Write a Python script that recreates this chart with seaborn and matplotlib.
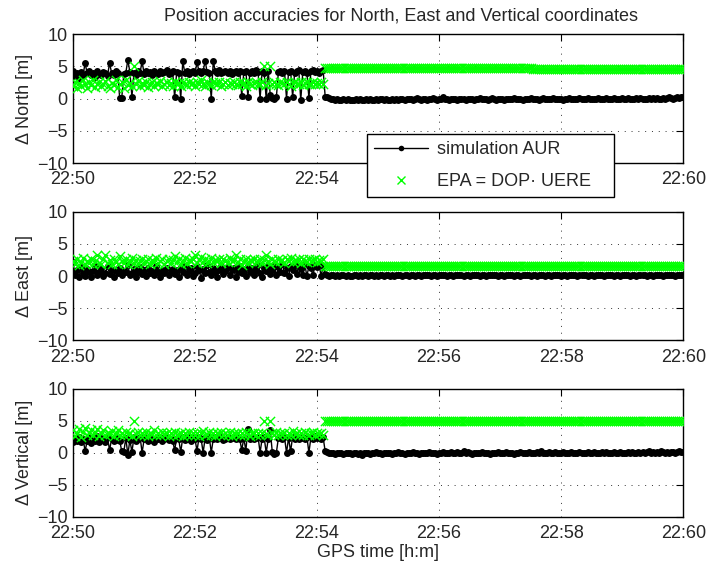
import numpy as np
import pandas as pd
import seaborn as sns
import matplotlib
matplotlib.use("Agg")
import matplotlib.pyplot as plt
from matplotlib.lines import Line2D

# GPS epochs in seconds after 22:50:00, one every 2 s
epoch_s = np.arange(0, 601, 2)

# --- North ---------------------------------------------------------------
north_aur = [
    4.3, 3.5, 3.9, 3.2, 4.1, 3.7, 5.5, 3.9, 4.2, 3.6,
    4.0, 3.4, 4.3, 3.8, 3.6, 4.1, 3.9, 3.5, 5.5, 4.0,
    3.7, 4.2, 3.9, 0.1, 0.1, 3.8, 4.0, 6.0, 4.1, 0.3,
    3.9, 3.6, 4.2, 4.0, 5.8, 3.8, 4.3, 3.9, 4.1, 3.7,
    4.2, 4.0, 3.8, 4.3, 3.9, 4.1, 4.4, 3.8, 4.0, 4.2,
    0.2, 4.1, 3.9, 0.0, 5.8, 4.0, 4.3, 3.8, 4.1, 4.2,
    3.9, 5.6, 4.2, 4.0, 4.3, 5.8, 4.1, 3.9, 0.0, 5.8,
    4.2, 4.0, 4.4, 3.9, 4.1, 4.3, 4.0, 4.2, 3.8, 4.1,
    4.3, 4.0, 4.2, 0.4, 4.1, 4.3, 0.3, 4.0, 4.2, 3.9,
    4.4, 4.1, 0.0, 4.2, 4.0, 0.0, 4.3, 0.5, 0.1, 0.0,
    0.2, 4.1, 4.3, 4.0, 4.2, 0.0, 4.1, 4.3, 0.3, 4.0,
    4.2, 4.4, -0.2, 4.1, 4.3, 4.0, 0.1, 4.2, 4.4, 4.1,
    4.3, 4.0, 4.2, 4.4, 0.3,
    0.2, 0.1, 0.0, -0.1, -0.2, -0.1, -0.2, -0.3, -0.1, -0.2,
    -0.1, -0.2, -0.3, -0.2, -0.1, -0.2, -0.1, -0.3, -0.2, -0.1,
    -0.2, -0.1, -0.2, -0.3, -0.1, -0.2, -0.1, 0.0, -0.2, -0.1,
    -0.2, -0.3, -0.1, -0.2, -0.1, -0.2, 0.0, -0.1, -0.2, -0.1,
    -0.1, 0.0, -0.2, -0.1, 0.1, -0.1, -0.2, 0.0, -0.1, -0.2,
    -0.1, 0.0, 0.1, -0.1, -0.2, 0.0, -0.1, 0.2, 0.0, -0.1,
    -0.2, -0.1, 0.0, -0.1, -0.2, -0.1, 0.0, -0.1, -0.3, -0.1,
    0.0, -0.1, -0.2, 0.0, -0.1, 0.1, -0.1, 0.0, -0.1, -0.2,
    0.0, 0.1, -0.1, -0.2, -0.1, 0.0, -0.1, -0.3, -0.1, 0.0,
    -0.1, 0.0, 0.1, -0.1, 0.0, -0.1, -0.2, 0.0, -0.1, 0.0,
    0.1, -0.1, 0.0, -0.1, -0.2, 0.0, 0.1, -0.1, 0.0, -0.1,
    0.0, 0.1, -0.1, 0.0, -0.1, 0.0, -0.2, -0.1, 0.0, 0.1,
    -0.1, 0.0, -0.1, 0.0, 0.1, 0.0, -0.1, 0.0, 0.1, -0.1,
    0.0, -0.1, 0.0, 0.1, 0.0, -0.1, 0.0, 0.1, 0.0, -0.1,
    0.0, 0.1, 0.0, -0.1, 0.0, 0.1, 0.0, 0.0, 0.1, 0.0,
    -0.1, 0.0, 0.1, 0.0, 0.1, 0.0, -0.1, 0.0, 0.1, 0.0,
    0.1, 0.0, 0.1, 0.0, 0.0, 0.1, 0.0, 0.1, 0.2, 0.1,
    0.0, 0.1, 0.2, 0.1, 0.2, 0.2,
]
north_epa = [
    2.0, 2.6, 1.6, 2.4, 1.9, 2.8, 2.2, 1.7, 2.5, 2.1,
    2.9, 1.8, 2.3, 2.6, 1.9, 2.2, 2.7, 2.0, 1.6, 2.4,
    2.1, 2.8, 1.8, 2.3, 2.6, 1.7, 2.9, 2.1, 2.4, 1.9,
    5.0, 2.2, 2.7, 1.9, 2.4, 2.1, 2.6, 1.8, 2.3, 2.5,
    2.0, 2.4, 2.2, 2.7, 1.9, 2.3, 2.5, 2.1, 2.4, 2.0,
    2.6, 2.2, 2.4, 1.9, 2.5, 2.3, 2.1, 2.6, 2.2, 2.4,
    2.0, 2.5, 2.3, 2.8, 2.2, 1.9, 2.6, 2.3, 2.1, 2.5,
    2.4, 2.2, 2.6, 2.0, 2.3, 2.5, 2.1, 2.4, 2.2, 2.6,
    2.3, 2.1, 2.5, 2.2, 2.4, 2.0, 2.6, 2.3, 2.1, 2.4,
    2.5, 2.2, 2.3, 2.6, 5.0, 2.1, 2.4, 5.0, 2.2, 2.5,
    2.3, 2.1, 2.6, 2.4, 2.2, 2.5, 2.3, 2.0, 2.4, 2.6,
    2.2, 2.3, 2.5, 2.1, 2.4, 2.6, 2.3, 2.2, 2.5, 2.3,
    2.4, 2.2, 2.6, 2.3, 4.75,
    4.75, 4.75, 4.75, 4.75, 4.75, 4.75, 4.75, 4.75, 4.75, 4.75,
    4.75, 4.75, 4.75, 4.75, 4.75, 4.75, 4.75, 4.75, 4.75, 4.75,
    4.75, 4.75, 4.75, 4.75, 4.75, 4.75, 4.75, 4.75, 4.75, 4.75,
    4.75, 4.75, 4.75, 4.75, 4.75, 4.75, 4.75, 4.75, 4.75, 4.75,
    4.75, 4.75, 4.75, 4.75, 4.75, 4.75, 4.75, 4.75, 4.75, 4.75,
    4.75, 4.75, 4.75, 4.75, 4.75, 4.75, 4.75, 4.75, 4.75, 4.75,
    4.75, 4.75, 4.75, 4.75, 4.75, 4.75, 4.75, 4.75, 4.75, 4.75,
    4.75, 4.75, 4.75, 4.75, 4.75, 4.75, 4.75, 4.75, 4.75, 4.75,
    4.75, 4.75, 4.75, 4.75, 4.75, 4.75, 4.75, 4.75, 4.75, 4.75,
    4.75, 4.75, 4.75, 4.75, 4.75, 4.75, 4.75, 4.75, 4.75, 4.75,
    4.75, 4.55, 4.55, 4.55, 4.55, 4.55, 4.55, 4.55, 4.55, 4.55,
    4.55, 4.55, 4.55, 4.55, 4.55, 4.55, 4.55, 4.55, 4.55, 4.55,
    4.55, 4.55, 4.55, 4.55, 4.55, 4.55, 4.55, 4.55, 4.55, 4.55,
    4.55, 4.55, 4.55, 4.55, 4.55, 4.55, 4.55, 4.55, 4.55, 4.55,
    4.55, 4.55, 4.55, 4.55, 4.55, 4.55, 4.55, 4.55, 4.55, 4.55,
    4.55, 4.55, 4.55, 4.55, 4.55, 4.55, 4.55, 4.55, 4.55, 4.55,
    4.55, 4.55, 4.55, 4.55, 4.55, 4.55, 4.55, 4.55, 4.55, 4.55,
    4.55, 4.55, 4.55, 4.55, 4.55, 4.55,
]

# --- East ----------------------------------------------------------------
east_aur = [
    2.2, 0.1, 0.9, -0.2, 1.4, 0.4, 0.0, 1.1, 0.6, -0.1,
    0.8, 1.5, 0.2, 0.7, 1.2, 0.0, 0.5, 1.6, 0.3, 0.9,
    -0.1, 1.0, 0.4, 1.3, 0.1, 0.8, 0.6, 1.7, 0.2, 0.5,
    1.1, -0.2, 0.7, 1.4, 0.3, 0.9, 0.0, 1.2, 0.5, 0.8,
    0.2, 1.5, 0.6, -0.1, 1.0, 0.4, 1.3, 0.1, 0.7, 1.1,
    0.3, 0.9, -0.2, 1.4, 0.6, 1.6, 0.2, 0.8, 1.2, 0.0,
    0.5, 1.5, 0.9, -0.3, 1.1, 0.4, 1.7, 0.7, 0.1, 1.3,
    0.6, -0.1, 1.0, 1.6, 0.3, 0.8, 1.4, 0.2, 0.9, 1.2,
    -0.2, 0.7, 1.5, 0.4, 1.1, 0.0, 1.6, 0.6, 1.3, 0.2,
    0.9, 1.7, 0.5, -0.2, 1.2, 0.8, 1.5, 0.3, 1.0, 1.6,
    0.1, 1.4, 0.7, 1.8, 0.4, 1.2, 0.0, 1.5, 0.9, 1.7,
    0.3, 1.6, 1.1, 0.2, 1.8, 0.0, 1.5, 1.2, 0.1, 1.7,
    1.4, 1.8, 0.0, 1.6, 0.3,
    0.1, 0.0, 0.1, 0.1, 0.0, 0.1, 0.0, 0.1, 0.1, 0.0,
    0.1, 0.0, 0.0, 0.1, 0.1, 0.0, 0.1, 0.0, 0.1, 0.1,
    0.0, 0.1, 0.1, 0.0, 0.1, 0.0, 0.1, 0.1, 0.0, 0.1,
    0.1, 0.0, 0.1, 0.0, 0.1, 0.2, 0.1, 0.0, 0.1, 0.1,
    0.0, 0.1, 0.1, 0.0, 0.1, 0.1, 0.0, 0.1, 0.2, 0.1,
    0.1, 0.0, 0.1, 0.1, 0.0, 0.1, 0.1, 0.2, 0.1, 0.0,
    0.1, 0.1, 0.0, 0.1, 0.2, 0.1, 0.1, 0.0, 0.1, 0.1,
    0.0, 0.1, 0.1, 0.2, 0.1, 0.0, 0.1, 0.1, 0.0, 0.1,
    0.1, 0.2, 0.1, 0.1, 0.0, 0.1, 0.1, 0.0, 0.1, 0.2,
    0.1, 0.1, 0.0, 0.1, 0.1, 0.0, 0.1, 0.2, 0.1, 0.1,
    0.0, 0.1, 0.1, 0.0, 0.1, 0.2, 0.1, 0.0, 0.1, 0.1,
    0.0, 0.1, 0.1, 0.2, 0.1, 0.0, 0.1, 0.1, 0.0, 0.1,
    0.2, 0.1, 0.1, 0.0, 0.1, 0.1, 0.2, 0.1, 0.0, 0.1,
    0.1, 0.0, 0.1, 0.2, 0.1, 0.1, 0.0, 0.1, 0.1, 0.2,
    0.1, 0.0, 0.1, 0.1, 0.0, 0.1, 0.2, 0.1, 0.1, 0.0,
    0.1, 0.1, 0.0, 0.1, 0.2, 0.1, 0.1, 0.0, 0.1, 0.1,
    0.0, 0.1, 0.2, 0.1, 0.1, 0.0, 0.1, 0.1, 0.2, 0.1,
    0.1, 0.0, 0.1, 0.1, 0.1, 0.1,
]
east_epa = [
    2.4, 1.9, 2.6, 1.7, 2.2, 2.8, 1.8, 2.3, 2.0, 2.7,
    1.9, 2.4, 3.3, 2.1, 1.8, 2.6, 3.3, 2.0, 2.5, 1.9,
    2.7, 2.2, 1.8, 3.1, 2.4, 2.0, 2.6, 1.9, 2.3, 2.8,
    2.1, 2.5, 1.9, 2.4, 2.7, 2.0, 2.3, 2.6, 1.9, 2.5,
    2.2, 2.8, 2.0, 2.4, 2.6, 1.9, 2.3, 2.7, 2.1, 2.5,
    3.1, 2.2, 2.6, 1.9, 2.4, 2.8, 2.0, 2.5, 2.3, 2.7,
    3.3, 2.1, 2.5, 2.9, 2.2, 2.6, 2.0, 2.4, 2.8, 2.2,
    2.5, 2.3, 2.7, 2.1, 2.6, 2.4, 2.2, 2.8, 2.3, 2.5,
    3.3, 2.2, 2.6, 1.7, 2.4, 2.7, 2.1, 2.5, 2.3, 2.6,
    2.2, 2.4, 2.7, 2.1, 2.5, 3.3, 2.3, 1.9, 2.6, 2.4,
    2.2, 2.7, 2.3, 2.5, 2.1, 2.6, 2.4, 2.8, 2.2, 2.5,
    2.3, 2.7, 2.1, 2.6, 2.4, 2.2, 2.7, 2.3, 2.5, 2.6,
    2.2, 2.5, 2.4, 2.7, 1.6,
    1.6, 1.6, 1.6, 1.6, 1.6, 1.6, 1.6, 1.6, 1.6, 1.6,
    1.6, 1.6, 1.6, 1.6, 1.6, 1.6, 1.6, 1.6, 1.6, 1.6,
    1.6, 1.6, 1.6, 1.6, 1.6, 1.6, 1.6, 1.6, 1.6, 1.6,
    1.6, 1.6, 1.6, 1.6, 1.6, 1.6, 1.6, 1.6, 1.6, 1.6,
    1.6, 1.6, 1.6, 1.6, 1.6, 1.6, 1.6, 1.6, 1.6, 1.6,
    1.6, 1.6, 1.6, 1.6, 1.6, 1.6, 1.6, 1.6, 1.6, 1.6,
    1.6, 1.6, 1.6, 1.6, 1.6, 1.6, 1.6, 1.6, 1.6, 1.6,
    1.6, 1.6, 1.6, 1.6, 1.6, 1.6, 1.6, 1.6, 1.6, 1.6,
    1.6, 1.6, 1.6, 1.6, 1.6, 1.6, 1.6, 1.6, 1.6, 1.6,
    1.6, 1.6, 1.6, 1.6, 1.6, 1.6, 1.6, 1.6, 1.6, 1.6,
    1.6, 1.6, 1.6, 1.6, 1.6, 1.6, 1.6, 1.6, 1.6, 1.6,
    1.6, 1.6, 1.6, 1.6, 1.6, 1.6, 1.6, 1.6, 1.6, 1.6,
    1.6, 1.6, 1.6, 1.6, 1.6, 1.6, 1.6, 1.6, 1.6, 1.6,
    1.6, 1.6, 1.6, 1.6, 1.6, 1.6, 1.6, 1.6, 1.6, 1.6,
    1.6, 1.6, 1.6, 1.6, 1.6, 1.6, 1.6, 1.6, 1.6, 1.6,
    1.6, 1.6, 1.6, 1.6, 1.6, 1.6, 1.6, 1.6, 1.6, 1.6,
    1.6, 1.6, 1.6, 1.6, 1.6, 1.6, 1.6, 1.6, 1.6, 1.6,
    1.6, 1.6, 1.6, 1.6, 1.6, 1.6,
]

# --- Vertical ------------------------------------------------------------
vert_aur = [
    1.6, 2.3, 1.8, 2.5, 1.7, 2.2, 0.2, 1.9, 2.4, 1.5,
    2.1, 1.8, 2.6, 1.7, 2.3, 2.0, 1.6, 2.4, 0.4, 2.1,
    1.8, 2.5, 2.0, 1.9, 0.2, 0.1, 2.3, -0.3, 2.0, 0.1,
    2.4, 1.9, 2.2, 2.5, 0.0, 2.1, 2.3, 1.8, 2.6, 2.0,
    1.7, 2.3, 2.1, 2.5, 1.9, 2.2, 2.4, 2.0, 2.2, 1.9,
    0.4, 2.3, 2.1, 0.1, 2.4, 2.0, 2.2, 2.5, 1.9, 2.3,
    2.1, 0.3, 2.4, 2.2, 0.0, 2.3, 2.0, 2.5, 0.0, 2.2,
    2.4, 2.1, 2.3, 2.6, 2.0, 2.2, 2.5, 2.1, 2.3, 2.4,
    2.2, 2.5, 2.1, 0.4, 2.3, 0.3, 3.7, 2.2, 2.4, 2.1,
    2.3, 2.5, 0.0, 2.2, 2.4, 0.0, 2.1, 3.5, 0.1, -0.2,
    0.0, 2.3, 2.5, 2.2, 2.4, 0.0, 2.3, 0.2, 2.5, 2.1,
    2.4, 2.2, 2.6, 2.3, 2.1, 2.5, 0.0, 2.4, 2.2, 2.6,
    2.3, 2.5, 2.2, 2.4, 0.2,
    0.1, 0.0, -0.1, 0.0, -0.2, -0.1, 0.0, -0.1, -0.2, -0.1,
    0.0, -0.1, -0.2, -0.1, 0.0, -0.2, -0.1, -0.3, -0.1, 0.0,
    -0.1, -0.2, 0.0, -0.1, 0.1, -0.1, 0.0, -0.2, -0.1, 0.0,
    -0.1, 0.0, -0.2, -0.1, 0.0, 0.1, -0.1, 0.0, -0.2, -0.1,
    0.0, -0.1, 0.1, -0.1, 0.0, -0.2, -0.1, 0.0, -0.1, 0.0,
    0.1, -0.1, 0.0, -0.1, -0.2, 0.0, -0.1, 0.1, 0.0, -0.1,
    0.0, 0.1, -0.1, 0.0, 0.1, 0.0, -0.1, 0.2, 0.0, 0.1,
    0.0, -0.2, -0.1, 0.0, -0.1, 0.0, 0.1, -0.1, 0.0, -0.1,
    -0.2, 0.0, -0.1, 0.0, 0.1, 0.0, -0.1, 0.0, 0.1, 0.0,
    -0.1, 0.0, -0.2, -0.1, 0.0, 0.1, 0.0, -0.1, 0.0, 0.1,
    0.0, -0.1, 0.0, 0.1, 0.0, 0.2, 0.0, -0.1, 0.0, 0.1,
    -0.1, 0.0, 0.1, 0.0, -0.1, 0.0, 0.1, -0.1, 0.0, 0.0,
    0.1, 0.0, -0.1, 0.0, 0.1, 0.0, -0.1, 0.0, 0.1, 0.0,
    0.0, 0.1, 0.0, -0.1, 0.0, 0.1, 0.0, 0.1, 0.0, -0.1,
    0.0, 0.1, 0.0, 0.0, 0.1, 0.0, -0.1, 0.0, 0.1, 0.0,
    0.1, 0.0, 0.0, 0.1, 0.0, 0.1, 0.0, 0.1, 0.2, 0.0,
    0.1, 0.0, 0.1, 0.0, 0.2, 0.1, 0.0, 0.1, 0.0, 0.1,
    0.1, 0.0, 0.1, 0.2, 0.1, 0.1,
]
vert_epa = [
    3.6, 2.6, 3.0, 3.7, 2.5, 3.3, 3.8, 2.7, 3.1, 3.6,
    2.8, 3.2, 3.7, 2.6, 3.0, 3.5, 2.7, 3.1, 2.9, 3.4,
    2.6, 3.0, 3.6, 2.8, 3.1, 2.7, 3.2, 2.9, 3.0, 2.6,
    5.0, 2.9, 3.2, 2.7, 3.0, 2.8, 3.3, 2.6, 3.1, 2.9,
    3.6, 2.8, 3.0, 2.7, 3.2, 2.9, 3.1, 2.6, 3.0, 2.8,
    3.2, 2.7, 2.9, 3.1, 2.6, 3.0, 2.8, 3.2, 2.7, 3.0,
    2.8, 3.1, 2.6, 3.0, 3.4, 2.7, 2.9, 3.2, 2.8, 3.0,
    2.6, 3.1, 2.9, 3.3, 2.7, 3.0, 2.8, 3.2, 2.6, 3.0,
    2.9, 3.1, 2.7, 3.0, 2.8, 3.2, 2.9, 2.6, 3.0, 3.1,
    2.8, 3.0, 2.7, 3.1, 5.0, 2.9, 2.8, 5.0, 3.0, 2.7,
    3.2, 2.8, 3.0, 2.9, 3.1, 2.7, 3.0, 2.8, 3.4, 2.9,
    3.1, 2.7, 3.0, 2.8, 3.2, 2.9, 2.7, 3.0, 3.3, 2.8,
    3.0, 2.9, 3.1, 2.8, 5.0,
    5.0, 5.0, 5.0, 5.0, 5.0, 5.0, 5.0, 5.0, 5.0, 5.0,
    5.0, 5.0, 5.0, 5.0, 5.0, 5.0, 5.0, 5.0, 5.0, 5.0,
    5.0, 5.0, 5.0, 5.0, 5.0, 5.0, 5.0, 5.0, 5.0, 5.0,
    5.0, 5.0, 5.0, 5.0, 5.0, 5.0, 5.0, 5.0, 5.0, 5.0,
    5.0, 5.0, 5.0, 5.0, 5.0, 5.0, 5.0, 5.0, 5.0, 5.0,
    5.0, 5.0, 5.0, 5.0, 5.0, 5.0, 5.0, 5.0, 5.0, 5.0,
    5.0, 5.0, 5.0, 5.0, 5.0, 5.0, 5.0, 5.0, 5.0, 5.0,
    5.0, 5.0, 5.0, 5.0, 5.0, 5.0, 5.0, 5.0, 5.0, 5.0,
    5.0, 5.0, 5.0, 5.0, 5.0, 5.0, 5.0, 5.0, 5.0, 5.0,
    5.0, 5.0, 5.0, 5.0, 5.0, 5.0, 5.0, 5.0, 5.0, 5.0,
    5.0, 5.0, 5.0, 5.0, 5.0, 5.0, 5.0, 5.0, 5.0, 5.0,
    5.0, 5.0, 5.0, 5.0, 5.0, 5.0, 5.0, 5.0, 5.0, 5.0,
    5.0, 5.0, 5.0, 5.0, 5.0, 5.0, 5.0, 5.0, 5.0, 5.0,
    5.0, 5.0, 5.0, 5.0, 5.0, 5.0, 5.0, 5.0, 5.0, 5.0,
    5.0, 5.0, 5.0, 5.0, 5.0, 5.0, 5.0, 5.0, 5.0, 5.0,
    5.0, 5.0, 5.0, 5.0, 5.0, 5.0, 5.0, 5.0, 5.0, 5.0,
    5.0, 5.0, 5.0, 5.0, 5.0, 5.0, 5.0, 5.0, 5.0, 5.0,
    5.0, 5.0, 5.0, 5.0, 5.0, 5.0,
]

panel_labels = ["\u0394 North [m]", "\u0394 East [m]", "\u0394 Vertical [m]"]
tick_minutes = [50, 52, 54, 56, 58, 60]
tick_labels = ["22:50", "22:52", "22:54", "22:56", "22:58", "22:60"]
y_ticks = [-10, -5, 0, 5, 10]

AUR_COLOR = "black"
EPA_COLOR = "#00ff00"
FONT = 13

sns.set_style("white")
plt.rcParams["font.family"] = ["Liberation Sans", "DejaVu Sans"]
plt.rcParams["axes.unicode_minus"] = True

fig = plt.figure(figsize=(7.08, 5.68), dpi=100)

# axes rectangles (left, bottom, width, height) in figure fraction
rects = [
    (0.103, 0.713, 0.862, 0.227),
    (0.103, 0.401, 0.862, 0.226),
    (0.103, 0.090, 0.862, 0.226),
]

minutes = 50 + epoch_s / 60.0
series = [(north_aur, north_epa), (east_aur, east_epa), (vert_aur, vert_epa)]

axes = []
for rect, (aur, epa), ylab in zip(rects, series, panel_labels):
    ax = fig.add_axes(rect)
    df = pd.DataFrame({"minute": minutes, "aur": aur, "epa": epa})
    sns.lineplot(data=df, x="minute", y="aur", ax=ax, color=AUR_COLOR,
                 estimator=None, sort=False, lw=1.0, marker="o",
                 markersize=5, markeredgewidth=0, zorder=3)
    sns.scatterplot(data=df, x="minute", y="epa", ax=ax, color=EPA_COLOR,
                    marker="x", s=44, linewidth=1.0, zorder=4)
    ax.set_xlim(50, 60)
    ax.set_ylim(-10, 10)
    ax.set_xticks(tick_minutes)
    ax.set_xticklabels(tick_labels)
    ax.set_yticks(y_ticks)
    ax.set_xlabel("")
    ax.set_ylabel(ylab, fontsize=FONT, labelpad=3)
    ax.tick_params(direction="in", length=5, width=0.8, top=True, right=True,
                   labelsize=FONT, color="black")
    ax.tick_params(axis="x", pad=6)
    ax.tick_params(axis="y", pad=4)
    ax.grid(True, color="0.2", linestyle=(0, (1, 6)), linewidth=0.7)
    for sp in ax.spines.values():
        sp.set_color("black")
        sp.set_linewidth(1.0)
    axes.append(ax)

# the legend box sits over the 22:56 and 22:58 labels of the North panel
axes[0].set_xticklabels([lab if m not in (56, 58) else ""
                         for m, lab in zip(tick_minutes, tick_labels)])

axes[-1].set_xlabel("GPS time [h:m]", fontsize=FONT, labelpad=1)
fig.text(0.566, 0.972, "Position accuracies for North, East and Vertical coordinates",
         ha="center", va="center", fontsize=FONT)

handles = [
    Line2D([], [], color=AUR_COLOR, lw=1.0, marker="o", markersize=4,
           markeredgewidth=0),
    Line2D([], [], color=EPA_COLOR, lw=0, marker="x", markersize=6,
           markeredgewidth=1.0),
]
leg = axes[0].legend(handles, ["simulation AUR", "EPA = DOP\u00b7 UERE"],
                     loc="lower left", bbox_to_anchor=(0.518, 0.653, 0.349, 0.115),
                     bbox_transform=fig.transFigure, mode="expand", numpoints=1,
                     fontsize=FONT, frameon=True, fancybox=False,
                     edgecolor="black", framealpha=1.0, handlelength=3.0,
                     borderaxespad=0, labelspacing=0.8, handletextpad=0.5,
                     borderpad=0.4)
leg.get_frame().set_linewidth(1.0)
leg.set_zorder(10)

fig.savefig("out.png", dpi=100)
